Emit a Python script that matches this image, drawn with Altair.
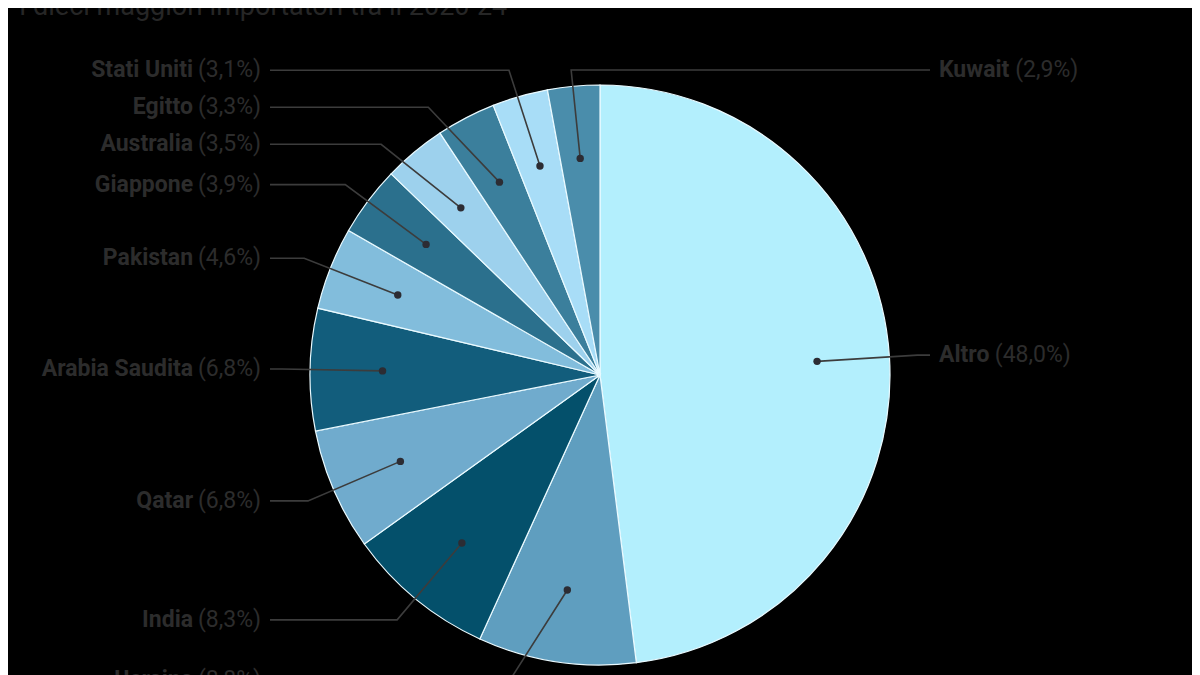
import math
import altair as alt
import pandas as pd

# ---------------- data ----------------
countries = ["Altro", "Ucraina", "India", "Qatar", "Arabia Saudita", "Pakistan",
             "Giappone", "Australia", "Egitto", "Stati Uniti", "Kuwait"]
shares = [48.0, 8.8, 8.3, 6.8, 6.8, 4.6, 3.9, 3.5, 3.3, 3.1, 2.9]
colors = ["#b3effd", "#5f9ebf", "#04506b", "#70abcd", "#125d7c", "#82bddc",
          "#2b708d", "#9dd1ed", "#3b7f9c", "#a8ddf7", "#4a8dab"]
title_text = "I dieci maggiori importatori tra il 2020-24"

# ---------------- layout constants ----------------
W, H = 1184, 667
CX, CY = 592, 367          # pie centre inside the svg
R = 290                    # pie radius
DOT_R = 0.75 * R           # where the leader dot sits
LABEL_R = 317              # radial reference for labels
ELBOW_R = 318
Y_LIMIT = 305
GAP = 37
TEXT_OFF = 339
LINE_OFF = 330
FS = 23
TEXT_COLOR = "#2c2c2c"

REG = {" ": .248, "(": .334, ")": .340, ",": .192, "%": .716}
BOLD = {"A": .666, "K": .629, "l": .264, "t": .336, "r": .352, "o": .561,
        "u": .549, "w": .75, "a": .536, "i": .264, " ": .248}


def width(s, table, default):
    return sum(table.get(ch, .562 if ch.isdigit() else default) for ch in s) * FS


total = sum(shares)
rows = []
cum = 0.0
for i, (c, s) in enumerate(zip(countries, shares)):
    a0 = cum / total * 2 * math.pi
    cum += s
    a1 = cum / total * 2 * math.pi
    mid = (a0 + a1) / 2
    sx, cy = math.sin(mid), math.cos(mid)
    side = -1 if sx < -0.1 else 1
    rows.append(dict(country=c, share=s, idx=i, mid=mid, side=side,
                     dot_x=DOT_R * sx, dot_y=DOT_R * cy,
                     ly=max(-Y_LIMIT, min(Y_LIMIT, LABEL_R * cy)),
                     pct=("(%.1f%%)" % s).replace(".", ",")))

for sd in (-1, 1):
    grp = sorted([r for r in rows if r["side"] == sd], key=lambda r: -r["ly"])
    prev = None
    for r in grp:
        if prev is not None and r["ly"] > prev - GAP:
            r["ly"] = prev - GAP
        prev = r["ly"]

line_rows = []
for r in rows:
    same = (math.sin(r["mid"]) < 0) == (r["side"] < 0)
    if same and abs(r["ly"]) < ELBOW_R:
        ex = r["side"] * math.sqrt(ELBOW_R ** 2 - r["ly"] ** 2)
    else:
        ex = LABEL_R * math.sin(r["mid"])
    pts = [(r["dot_x"], r["dot_y"]), (ex, r["ly"]), (r["side"] * LINE_OFF, r["ly"])]
    for k, (px, py) in enumerate(pts):
        line_rows.append(dict(country=r["country"], seq=k, x=px, y=py))
    space = width(" ", REG, .248)
    if r["side"] < 0:
        r["pct_x"] = -TEXT_OFF
        r["name_x"] = -TEXT_OFF - width(r["pct"], REG, .55) - space
    else:
        r["name_x"] = TEXT_OFF
        r["pct_x"] = TEXT_OFF + width(r["country"], BOLD, .56) + space

df = pd.DataFrame(rows)
df["x0"] = 0.0
df["y0"] = 0.0
lines_df = pd.DataFrame(line_rows)

xs = alt.Scale(domain=[-CX, W - CX], nice=False, zero=False)
ys = alt.Scale(domain=[CY - H, CY], nice=False, zero=False)

pie = alt.Chart(df).mark_arc(outerRadius=R, stroke="#eafaff", strokeWidth=1.2).encode(
    theta=alt.Theta("share:Q", stack=True),
    order=alt.Order("idx:Q"),
    color=alt.Color("country:N", scale=alt.Scale(domain=countries, range=colors), legend=None),
    x=alt.X("x0:Q", scale=xs, axis=None),
    y=alt.Y("y0:Q", scale=ys, axis=None),
)

leaders = alt.Chart(lines_df).mark_line(color="#3c3c3c", strokeWidth=1.6).encode(
    x=alt.X("x:Q", scale=xs, axis=None),
    y=alt.Y("y:Q", scale=ys, axis=None),
    detail="country:N",
    order="seq:Q",
)

dots = alt.Chart(df).mark_circle(size=55, color="#2c2c33", opacity=1).encode(
    x=alt.X("dot_x:Q", scale=xs, axis=None),
    y=alt.Y("dot_y:Q", scale=ys, axis=None),
)


def text_layer(field, xfield, align, weight, side):
    return alt.Chart(df).transform_filter(
        alt.datum.side == side
    ).mark_text(align=align, baseline="middle", font="Roboto", fontSize=FS,
                fontWeight=weight, color=TEXT_COLOR).encode(
        x=alt.X(f"{xfield}:Q", scale=xs, axis=None),
        y=alt.Y("ly:Q", scale=ys, axis=None),
        text=f"{field}:N",
    )


labels = [
    text_layer("country", "name_x", "right", "bold", -1),
    text_layer("pct", "pct_x", "right", "normal", -1),
    text_layer("country", "name_x", "left", "bold", 1),
    text_layer("pct", "pct_x", "left", "normal", 1),
]

title = alt.Chart(pd.DataFrame({"t": [title_text]})).mark_text(
    align="left", baseline="alphabetic", font="Roboto", fontSize=27,
    color="#262626").encode(
    x=alt.value(11), y=alt.value(6.5), text="t:N")

chart = alt.layer(pie, leaders, dots, *labels, title).properties(
    width=W, height=H,
    autosize=alt.AutoSizeParams(type="none"),
    padding=0,
).configure(background="#000000").configure_view(stroke=None)

chart.save("out.html", embed_options={"renderer": "svg", "actions": False})
